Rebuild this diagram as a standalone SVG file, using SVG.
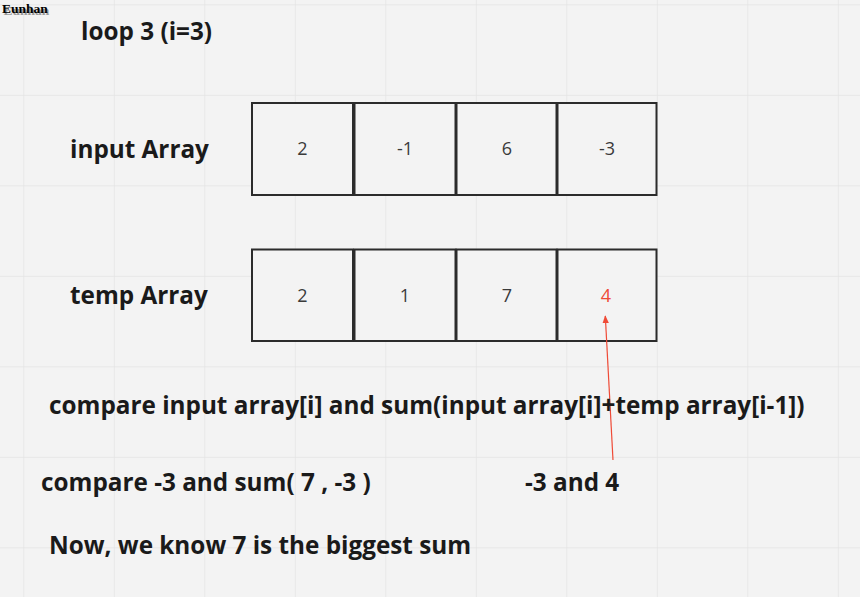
<svg xmlns="http://www.w3.org/2000/svg" width="860" height="597" viewBox="0 0 860 597">
<defs>
<pattern id="grid" x="23.3" y="4.3" width="90.5" height="90.5" patternUnits="userSpaceOnUse">
<path d="M0 0H90.5M0 0V90.5" fill="none" stroke="#e4e4e4" stroke-width="1.5"/>
</pattern>
<marker id="arr" viewBox="0 0 10 10" refX="9" refY="5" markerWidth="8" markerHeight="8" orient="auto" markerUnits="userSpaceOnUse">
<path d="M0 1L10 5L0 9z" fill="#ef4a36"/>
</marker>
<style>
.lbl{font-family:"Open Sans","Noto Sans",sans-serif;font-weight:bold;font-size:24.3px;fill:#1a1a1a}
.cell{fill:#f3f3f3;stroke:#2b2b2b;stroke-width:2}
.num{font-family:"Open Sans","Noto Sans",sans-serif;font-size:18px;fill:#3a3a3a;text-anchor:middle}
</style>
</defs>
<rect width="860" height="597" fill="#f3f3f3"/>
<rect width="860" height="597" fill="url(#grid)"/>
<text x="2" y="13" font-family="Liberation Serif,serif" font-weight="bold" font-size="13.5" fill="#999" transform="translate(1.5,1.5)">Eunhan</text>
<text x="2" y="13" font-family="Liberation Serif,serif" font-weight="bold" font-size="13.5" fill="#000">Eunhan</text>
<g id="title"><text class="lbl" x="81" y="40">loop 3 (i=3)</text></g>
<g id="input-label"><text class="lbl" x="70" y="158">input Array</text></g>
<g id="temp-label"><text class="lbl" x="70" y="304">temp Array</text></g>
<g id="input-array">
<rect class="cell" x="252" y="103" width="101" height="92"/>
<rect class="cell" x="354.5" y="103" width="101" height="92"/>
<rect class="cell" x="456.5" y="103" width="100" height="92"/>
<rect class="cell" x="557.5" y="103" width="99" height="92"/>
<text class="num" x="302.5" y="155">2</text>
<text class="num" x="405" y="155">-1</text>
<text class="num" x="507" y="155">6</text>
<text class="num" x="607" y="155">-3</text>
</g>
<g id="temp-array">
<rect class="cell" x="252" y="249.5" width="101" height="91.5"/>
<rect class="cell" x="354.5" y="249.5" width="101" height="91.5"/>
<rect class="cell" x="456.5" y="249.5" width="100" height="91.5"/>
<rect class="cell" x="557.5" y="249.5" width="99" height="91.5"/>
<text class="num" x="302.5" y="301.5">2</text>
<text class="num" x="405" y="301.5">1</text>
<text class="num" x="507" y="301.5">7</text>
<text class="num" x="606" y="301.5" style="fill:#ef4a36">4</text>
</g>
<g id="connectors">
<line x1="613" y1="460" x2="605.3" y2="316" stroke="#ef4a36" stroke-width="1.2" marker-end="url(#arr)"/>
</g>
<g id="compare-general"><text class="lbl" x="49" y="414">compare input array[i] and sum(input array[i]+temp array[i-1])</text></g>
<g id="compare-values"><text class="lbl" x="41" y="491">compare -3 and sum( 7 , -3 )</text></g>
<g id="result"><text class="lbl" x="525" y="491">-3 and 4</text></g>
<g id="conclusion"><text class="lbl" x="49" y="554">Now, we know 7 is the biggest sum</text></g>
</svg>
